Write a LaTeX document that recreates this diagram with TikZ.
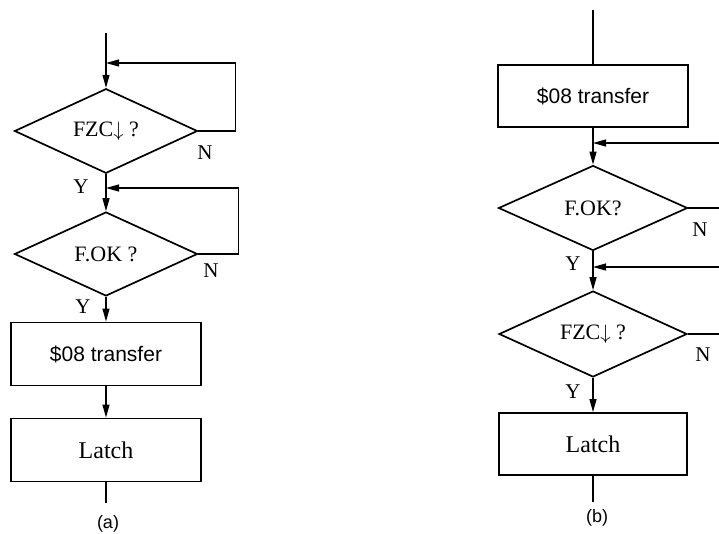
\documentclass[tikz,border=0pt]{standalone}
\usepackage{fontspec}
\setmainfont{Liberation Serif}
\setsansfont{Liberation Sans}
\usetikzlibrary{shapes.geometric, arrows.meta, positioning}

\begin{document}
\begin{tikzpicture}[x=1pt, y=-1pt]
    % Styles
    \tikzstyle{decision} = [diamond, draw=black, line width=1.7pt, inner sep=0pt, minimum width=183pt, minimum height=84pt, font=\fontsize{22}{26}\selectfont]
    \tikzstyle{process} = [rectangle, draw=black, line width=1.9pt, minimum width=190pt, minimum height=63pt, inner sep=0pt, text centered]
    \tikzstyle{arrow} = [line width=1.2pt, -{Triangle[length=13pt, width=7pt]}]
    \tikzstyle{wire} = [line width=1.2pt]
    \tikzstyle{yn} = [font=\fontsize{21}{24}\selectfont, inner sep=0pt]
    \tikzstyle{caption} = [font=\sffamily\fontsize{18}{21}\selectfont, inner sep=0pt]

    \useasboundingbox (0,0) rectangle (719,533);
    \clip (0,0) rectangle (719,533);

    % (a) Nodes
    \coordinate (a_in) at (106,33);
    \coordinate (a_j1) at (106,63);
    \node (a_fzc) [decision] at (106,131) {FZC$\downarrow$ ?};
    \coordinate (a_j2) at (106,188);
    \node (a_fok) [decision] at (106,254) {F.OK ?};
    \node (a_xfer) [process, font=\sffamily\fontsize{21}{25}\selectfont] at (106,354) {\$08 transfer};
    \node (a_latch) [process, font=\fontsize{24}{28}\selectfont] at (106,450) {Latch};
    \coordinate (a_out) at (106,503);
    \node (a_cap) [caption] at (108,524) {(a)};

    % (a) Labels
    \node (a_n1) [yn] at (205,153) {N};
    \node (a_y1) [yn] at (81,187) {Y};
    \node (a_n2) [yn] at (211,271) {N};
    \node (a_y2) [yn] at (83,307) {Y};

    % (a) Arrows
    \draw [arrow] (a_in) -- (a_fzc.north);
    \draw [arrow] (a_fzc.east) -- ++(37,0) |- (a_j1);
    \draw [arrow] (a_fzc.south) -- (a_fok.north);
    \draw [arrow] (a_fok.east) -- ++(40,0) |- (a_j2);
    \draw [arrow] (a_fok.south) -- (a_xfer.north);
    \draw [arrow] (a_xfer.south) -- (a_latch.north);
    \draw [wire] (a_latch.south) -- (a_out);

    % (b) Nodes
    \coordinate (b_in) at (593,10);
    \node (b_xfer) [process, font=\sffamily\fontsize{21}{25}\selectfont, minimum height=62pt] at (593,96) {\$08 transfer};
    \coordinate (b_j1) at (593,143);
    \node (b_fok) [decision, minimum width=189pt, minimum height=85pt] at (593,208) {F.OK?};
    \coordinate (b_j2) at (593,267);
    \node (b_fzc) [decision, minimum width=188pt, minimum height=86pt] at (593,334) {FZC$\downarrow$ ?};
    \node (b_latch) [process, font=\fontsize{24}{28}\selectfont, minimum width=188pt, minimum height=62pt] at (593,444) {Latch};
    \coordinate (b_out) at (593,502);
    \node (b_cap) [caption] at (597,518) {(b)};

    % (b) Labels
    \node (b_n1) [yn] at (700,230) {N};
    \node (b_y1) [yn] at (573,264) {Y};
    \node (b_n2) [yn] at (703,355) {N};
    \node (b_y2) [yn] at (573,392) {Y};

    % (b) Arrows
    \draw [wire] (b_in) -- (b_xfer.north);
    \draw [arrow] (b_xfer.south) -- (b_fok.north);
    \draw [arrow] (b_fok.east) -- ++(40,0) |- (b_j1);
    \draw [arrow] (b_fok.south) -- (b_fzc.north);
    \draw [arrow] (b_fzc.east) -- ++(40,0) |- (b_j2);
    \draw [arrow] (b_fzc.south) -- (b_latch.north);
    \draw [wire] (b_latch.south) -- (b_out);
\end{tikzpicture}
\end{document}
